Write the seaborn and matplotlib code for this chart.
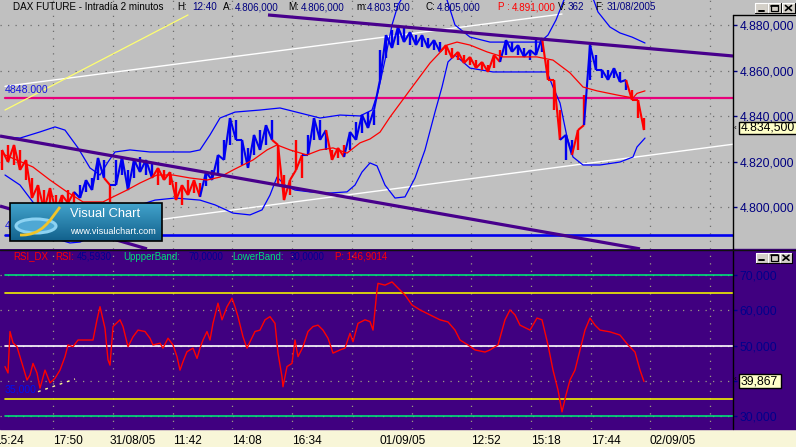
import matplotlib
matplotlib.use("Agg")
import matplotlib.pyplot as plt
import matplotlib.transforms as mtransforms
from matplotlib.patches import Rectangle, Ellipse, PathPatch
from matplotlib.path import Path
from matplotlib.collections import LineCollection
import numpy as np
import pandas as pd
import seaborn as sns

# ------------------------------------------------------------------ data
# price bars (2-minute DAX future), sampled along the time axis
price_x = list(range(2, 645, 6))
price_hi = [4825.2, 4827.4, 4827.4, 4825.2, 4820.8, 4812.9, 4809.8, 4807.6, 4808.5, 4805.4,
            4805.4, 4807.6, 4806.8, 4809.8, 4812.0, 4812.9, 4821.7, 4820.8, 4809.8, 4820.8,
            4822.1, 4816.4, 4820.8, 4822.1, 4820.8, 4819.5, 4817.3, 4816.4, 4815.5, 4811.1,
            4809.8, 4812.0, 4812.0, 4810.7, 4815.5, 4816.4, 4823.0, 4829.6, 4839.2, 4838.3,
            4829.6, 4826.1, 4831.8, 4833.9, 4836.1, 4838.3, 4827.4, 4814.2, 4812.0, 4829.6,
            4823.0, 4831.8, 4839.2, 4838.3, 4833.9, 4825.2, 4826.1, 4827.4, 4833.1, 4837.5,
            4840.6, 4841.9, 4842.8, 4869.0, 4875.6, 4877.8, 4879.1, 4878.7, 4876.9, 4875.6,
            4875.6, 4874.3, 4873.4, 4872.5, 4871.2, 4869.9, 4868.2, 4866.8, 4866.0, 4864.6,
            4863.8, 4862.5, 4866.8, 4869.0, 4873.4, 4872.5, 4871.2, 4869.9, 4869.0, 4873.4,
            4874.3, 4864.6, 4855.9, 4842.7, 4831.8, 4829.6, 4833.9, 4849.3, 4871.2, 4866.8,
            4860.3, 4860.3, 4861.1, 4859.4, 4855.9, 4851.5, 4847.1, 4839.2]
price_lo = [4816.4, 4819.9, 4818.6, 4816.4, 4812.0, 4804.1, 4801.1, 4798.9, 4800.6, 4798.0,
            4798.9, 4801.9, 4801.5, 4804.1, 4806.8, 4807.6, 4812.0, 4812.9, 4802.4, 4809.8,
            4814.2, 4807.6, 4812.9, 4815.5, 4814.2, 4812.9, 4809.8, 4812.0, 4809.8, 4803.2,
            4801.1, 4805.4, 4806.3, 4804.6, 4809.4, 4812.0, 4814.2, 4820.8, 4827.4, 4829.6,
            4818.6, 4817.3, 4823.0, 4825.2, 4827.4, 4829.6, 4809.8, 4803.2, 4805.4, 4816.4,
            4812.9, 4823.0, 4829.6, 4829.6, 4825.2, 4820.8, 4821.7, 4822.1, 4825.2, 4829.6,
            4832.6, 4834.8, 4836.1, 4855.9, 4865.5, 4869.9, 4871.2, 4872.5, 4871.2, 4871.2,
            4870.4, 4869.9, 4869.0, 4868.2, 4866.8, 4865.5, 4864.6, 4863.3, 4862.5, 4861.1,
            4860.3, 4859.4, 4861.1, 4863.8, 4866.8, 4868.2, 4866.8, 4866.0, 4864.6, 4866.8,
            4868.2, 4855.9, 4842.7, 4829.6, 4820.8, 4823.0, 4825.2, 4836.1, 4855.9, 4860.3,
            4856.8, 4855.9, 4856.8, 4855.0, 4851.5, 4847.1, 4839.2, 4833.9]
price_trend = ("RRRRRRRRRRRRR" "BBBBB" "R" "BBBBBBB" "RRRRRRRR" "BBBBBBBBBBBB" "RRRRR" "BBBB"
               "RRR" "BBBBBBBBBBBBBBBB" "RRRRRRRRRR" "BBBBBBB" "RRR" "BB" "RR" "BBBBBBB" "RRR")
price_last = 4834.5

# moving average
ma_x = [5, 33, 50, 67, 83, 103, 113, 127, 140, 157, 173, 190, 207, 220, 233, 253, 267, 277, 290,
        307, 320, 333, 347, 360, 370, 380, 390, 410, 430, 447, 457, 470, 487, 503, 537, 553, 570,
        583, 597, 617, 633, 637, 645]
ma_v = [4823.0, 4817.7, 4812.0, 4806.8, 4802.4, 4802.4, 4804.6, 4807.6, 4810.7, 4814.2, 4814.2,
        4812.9, 4812.0, 4813.3, 4816.4, 4820.8, 4825.2, 4827.4, 4825.2, 4823.0, 4825.2, 4826.1,
        4823.8, 4828.3, 4830.0, 4833.0, 4839.6, 4851.5, 4863.3, 4871.2, 4872.5, 4871.2, 4868.2,
        4866.0, 4866.0, 4864.6, 4859.0, 4852.8, 4851.1, 4849.3, 4848.0, 4850.0, 4851.1]

# Bollinger bands
ub_x = [5, 20, 40, 55, 65, 78, 90, 100, 108, 115, 130, 150, 170, 190, 200, 210, 220, 235, 260,
        280, 300, 320, 340, 360, 372, 378, 385, 392, 398, 410, 430, 447, 455, 470, 490, 510, 540,
        548, 556, 564, 575, 590, 598, 610, 620, 632, 645]
ub_v = [4830.9, 4830.4, 4833.1, 4835.3, 4833.9, 4826.1, 4817.3, 4814.2, 4819.9, 4824.3, 4825.2,
        4824.3, 4824.3, 4824.3, 4825.2, 4831.8, 4839.2, 4841.8, 4842.7, 4843.6, 4841.4, 4839.2,
        4840.5, 4840.1, 4842.7, 4850.6, 4864.6, 4880.0, 4888.8, 4897.5, 4899.7, 4891.0, 4880.0,
        4874.7, 4872.5, 4872.5, 4872.5, 4875.6, 4882.2, 4891.0, 4897.5, 4895.4, 4885.7, 4879.1,
        4876.5, 4874.7, 4872.1]
lb_x = [5, 20, 35, 50, 60, 70, 80, 95, 110, 125, 140, 155, 175, 200, 215, 233, 250, 262, 270,
        277, 285, 295, 310, 330, 347, 355, 362, 370, 377, 385, 395, 405, 415, 425, 435, 442, 448,
        455, 470, 493, 520, 547, 553, 560, 567, 573, 583, 600, 620, 633, 637, 645]
lb_v = [4814.2, 4809.8, 4801.1, 4791.0, 4785.7, 4784.4, 4784.8, 4787.9, 4792.3, 4797.5, 4801.1,
        4803.2, 4804.1, 4803.2, 4801.1, 4797.5, 4796.7, 4798.9, 4805.4, 4813.3, 4809.8, 4807.6,
        4806.8, 4806.3, 4806.8, 4809.8, 4815.5, 4819.5, 4818.2, 4809.8, 4804.1, 4804.6, 4812.9,
        4825.2, 4841.8, 4852.8, 4863.8, 4866.8, 4861.1, 4859.4, 4859.4, 4859.4, 4852.8, 4845.8,
        4830.9, 4822.1, 4818.6, 4818.6, 4819.9, 4822.1, 4826.5, 4830.4]

# drawn trendlines: (x0, price0, x1, price1)
purple_lines = [(268, 4884.4, 733, 4866.4), (0, 4831.3, 640, 4781.8), (0, 4800.6, 147, 4781.8)]
white_lines = [(5, 4853.1, 562, 4884.8), (100, 4791.2, 733, 4827.7)]
yellow_lines = [(5, 4842.7, 188, 4884.4)]
level_pink = 4848.0
level_blue = 4788.0
price_ticks = [4800, 4820, 4840, 4860, 4880]

# RSI
rsi_x = [5, 8, 10, 13, 17, 20, 23, 27, 30, 33, 37, 40, 45, 50, 55, 60, 65, 68, 73, 78,
         87, 93, 97, 100, 105, 108, 110, 113, 120, 123, 128, 133, 138, 145, 150, 153, 160, 163, 168, 173,
         177, 180, 183, 187, 193, 197, 200, 203, 207, 210, 213, 218, 222, 227, 232, 235, 238, 243, 247, 250,
         255, 260, 265, 270, 275, 278, 282, 283, 287, 292, 295, 298, 303, 308, 313, 318, 323, 328, 333, 340,
         345, 350, 353, 358, 365, 370, 373, 377, 378, 385, 392, 400, 405, 412, 420, 430, 440, 448, 455, 460,
         468, 475, 485, 490, 498, 505, 510, 515, 520, 530, 537, 542, 548, 553, 558, 562, 566, 570, 575, 580,
         585, 590, 595, 600, 610, 620, 628, 635, 640, 644]
rsi_v = [44.1, 42.3, 54.0, 50.8, 49.7, 46.9, 44.1, 40.3, 41.7, 45.0, 42.3, 38.0, 43.1, 39.5, 40.8, 43.1, 46.9, 50.2, 49.7, 51.6,
         51.6, 51.6, 57.3, 61.0, 54.9, 46.0, 44.5, 55.4, 57.3, 55.4, 49.7, 52.5, 54.4, 54.0, 52.1, 50.2, 50.7, 49.3, 52.1, 50.2,
         46.9, 43.1, 45.5, 48.3, 49.3, 46.4, 49.3, 51.6, 54.0, 51.6, 56.3, 62.0, 57.3, 61.0, 63.4, 61.0, 58.2, 52.5, 49.3, 51.1,
         54.0, 54.4, 57.3, 58.2, 56.3, 47.9, 41.2, 38.4, 44.1, 45.0, 51.6, 46.9, 49.7, 54.0, 55.4, 55.8, 54.4, 52.1, 47.9, 48.8,
         49.3, 53.5, 51.1, 56.3, 57.3, 56.8, 54.4, 65.7, 67.6, 67.1, 68.0, 65.7, 64.3, 61.5, 60.1, 58.7, 57.3, 56.7, 54.4, 51.6,
         50.2, 48.8, 48.2, 48.8, 50.2, 57.3, 60.1, 58.7, 55.8, 54.4, 57.8, 57.3, 50.2, 43.1, 37.5, 31.3, 36.1, 40.3, 43.1, 48.8,
         54.4, 57.8, 55.8, 54.4, 53.9, 53.0, 50.2, 48.2, 43.1, 39.867]
rsi_upper, rsi_lower = 70, 30
rsi_yellow = [65, 35]
rsi_mid = 50
rsi_trend = (38, 37.0, 75, 40.6)
rsi_ticks = [30, 40, 50, 60, 70]
rsi_ticks_labelled = [30, 50, 60, 70]   # 40 sits behind the value tag

# time axis
grid_x = [53.3, 113.0, 172.7, 232.4, 292.1, 351.8, 411.5, 471.2, 530.9, 590.6, 650.3, 710.0]
day_x = [107, 377, 647]
time_labels = ["15:24", "17:50", "31/08/05", "11:42", "14:08", "16:34", "01/09/05",
               "12:52", "15:18", "17:44", "02/09/05"]
time_label_x = [-6.4, 53.3, 109.5, 172.7, 232.4, 292.1, 379.0, 471.2, 530.9, 590.6, 650.0]

# header texts
NAVY, BLACK, RED = "#000080", "#000000", "#FF0000"
GREEN = "#00E078"
header_x = [13, 177, 192, 223, 235, 288, 301, 356, 367, 425, 437, 498, 511.5, 557.5, 568, 595, 607]
header_txt = ["DAX FUTURE - Intradía 2 minutos", "H:", "12:40", "A:", "4.806,000", "M:",
              "4.806,000", "m:", "4.803,500", "C:", "4.805,000", "P :", "4.891,000", "V:", "362",
              "F:", "31/08/2005"]
header_col = [BLACK, BLACK, NAVY, BLACK, NAVY, BLACK, NAVY, BLACK, NAVY, BLACK, NAVY, RED, RED,
              BLACK, NAVY, BLACK, NAVY]
rsi_leg_x = [13, 55, 77, 123, 188, 232, 290, 335]
rsi_leg_txt = ["RSI_DX", "RSI:", "45,5930", "UppperBand:", "70,0000", "LowerBand:", "30,0000",
               "P: 146,9014"]
rsi_leg_col = [RED, RED, "#000090", GREEN, "#000090", GREEN, "#000090", RED]


def euro(v, d=3):
    s = f"{v:,.{d}f}"
    return s.replace(",", "#").replace(".", ",").replace("#", ".")


# ------------------------------------------------------------------ figure
sns.set_style("white")
plt.rcParams["font.family"] = ["Liberation Sans", "DejaVu Sans"]

W, H = 796, 447
GRAY = "#C0C0C0"
PURPLE = "#400080"
CREAM = "#F8F6D8"
fig = plt.figure(figsize=(W / 100, H / 100), dpi=100, facecolor=CREAM)


def fbox(x0, y0, x1, y1):
    return [x0 / W, 1 - y1 / H, (x1 - x0) / W, (y1 - y0) / H]


fig.add_artist(Rectangle((0, 1 - 249 / H), 1, 249 / H, transform=fig.transFigure,
                         color=GRAY, zorder=-5))
fig.add_artist(Rectangle((0, 1 - 429 / H), 1, 180 / H, transform=fig.transFigure,
                         color=PURPLE, zorder=-5))

# ---------------- price panel
ax = fig.add_axes(fbox(0, 0, 733, 249))
ax.set_facecolor(GRAY)
ax.set_xlim(0, 733)
ax.set_ylim(4781.75, 4890.96)
for s in ax.spines.values():
    s.set_visible(False)
ax.set_axisbelow(True)
ax.set_xticks(grid_x)
ax.tick_params(axis="x", length=0, labelbottom=False)
ax.yaxis.tick_right()
ax.set_yticks(price_ticks)
ax.set_yticklabels([euro(v) for v in price_ticks])
ax.tick_params(axis="y", colors=NAVY, length=3, width=1, pad=1.5, labelsize=8.7)
ax.grid(True, color="#6E6E6E", lw=0.9, ls=(0, (1, 5)))

ax.axhline(level_pink, xmin=5 / 733, color="#E8007A", lw=1.6, zorder=2)
ax.axhline(level_blue, xmin=5 / 733, color="#0000F0", lw=1.9, zorder=2)
ax.annotate("4848.000", (5, level_pink), xytext=(0, 6), textcoords="offset points",
            color="#1414E0", fontsize=7.6, va="center", ha="left")
ax.annotate("4788.000", (5, level_blue), xytext=(0, 6.2), textcoords="offset points",
            color="#1414E0", fontsize=7.6, va="center", ha="left")

for x0, y0, x1, y1 in white_lines:
    ax.plot([x0, x1], [y0, y1], color="white", lw=1.0, zorder=2)
for x0, y0, x1, y1 in yellow_lines:
    ax.plot([x0, x1], [y0, y1], color="#FFFF70", lw=0.9, zorder=2)

sns.lineplot(x=ub_x, y=ub_v, ax=ax, color="#0000FF", lw=0.9, estimator=None, sort=False, zorder=3)
sns.lineplot(x=lb_x, y=lb_v, ax=ax, color="#0000FF", lw=0.9, estimator=None, sort=False, zorder=3)

cmap = {"R": "#FF0000", "B": "#0000F0"}
bar_cols = [cmap[c] for c in price_trend]
ax.vlines(price_x, price_lo, price_hi, colors=bar_cols, lw=1.7, zorder=4)
zig = [(x, hi if i % 2 == 0 else lo) for i, (x, hi, lo) in enumerate(zip(price_x, price_hi, price_lo))]
segs = [[zig[i], zig[i + 1]] for i in range(len(zig) - 1)]
ax.add_collection(LineCollection(segs, colors=bar_cols[1:], lw=1.5, zorder=4))

sns.lineplot(x=ma_x, y=ma_v, ax=ax, color="#FF0000", lw=0.9, estimator=None, sort=False, zorder=5)

for x0, y0, x1, y1 in purple_lines:
    ax.plot([x0, x1], [y0, y1], color="#48008C", lw=2.3, zorder=6, solid_capstyle="butt")

# ---------------- RSI panel
ar = fig.add_axes(fbox(0, 249, 733, 429))
ar.set_facecolor(PURPLE)
ar.set_xlim(0, 733)
ar.set_ylim(26.47, 77.3)
for s in ar.spines.values():
    s.set_visible(False)
ar.set_axisbelow(True)
ar.set_xticks(grid_x)
ar.set_xticks(day_x, minor=True)
ar.tick_params(axis="x", which="major", length=2.4, width=1, color="black", labelbottom=False)
ar.tick_params(axis="x", which="minor", length=4.6, width=1, color="black", labelbottom=False)
ar.yaxis.tick_right()
ar.set_yticks(rsi_ticks)
ar.set_yticklabels([euro(v) if v in rsi_ticks_labelled else "" for v in rsi_ticks])
ar.tick_params(axis="y", colors="#00008C", length=3, width=1, pad=1.5, labelsize=8.7)
ar.grid(True, which="major", color="#9A9A86", lw=0.9, ls=(0, (1, 5)))

for lvl, col in [(rsi_upper, GREEN), (rsi_lower, GREEN), (rsi_yellow[0], "#F0F000"),
                 (rsi_yellow[1], "#F0F000"), (rsi_mid, "white")]:
    ar.axhline(lvl, xmin=5 / 733, color=col, lw=1.2, zorder=2)
ar.plot([rsi_trend[0], rsi_trend[2]], [rsi_trend[1], rsi_trend[3]], color="#FFFF90", lw=1.0,
        ls=(0, (2, 3.5)), zorder=3)
ar.annotate(euro(35), (5, rsi_yellow[1]), xytext=(0, 6.6), textcoords="offset points",
            color="#0010F0", fontsize=7.6, va="center", ha="left")
rsi_df = pd.DataFrame({"t": rsi_x, "rsi": rsi_v})
sns.lineplot(data=rsi_df, x="t", y="rsi", ax=ar, color="#FF0000", lw=1.0, estimator=None,
             sort=False, zorder=4)
ar.set_xlabel("")
ar.set_ylabel("")
ax.set_xlabel("")
ax.set_ylabel("")

tl = mtransforms.blended_transform_factory(ar.transData, fig.transFigure)
for xp, txt in zip(time_label_x, time_labels):
    ar.text(xp, 1 - 441.5 / H, txt, transform=tl, ha="left", va="center", fontsize=8.6,
            color="black", clip_on=False)

# ---------------- overlay (window chrome, texts, tags, logo)
ov = fig.add_axes([0, 0, 1, 1], zorder=10)
ov.set_xlim(0, W)
ov.set_ylim(H, 0)
ov.axis("off")
ov.patch.set_alpha(0)

ov.plot([733, 733], [15, 429], color="black", lw=1.0)
ov.plot([733, 796], [15, 15], color="black", lw=1.0)
ov.plot([0, 796], [249.5, 249.5], color="#101010", lw=1.0)

for xp, txt, col in zip(header_x, header_txt, header_col):
    ov.text(xp, 7.5, txt, color=col, fontsize=7.1, ha="left", va="center")
for xp, txt, col in zip(rsi_leg_x, rsi_leg_txt, rsi_leg_col):
    ov.text(xp, 256.5, txt, color=col, fontsize=7.0, ha="left", va="center")

# value tags
ov.add_patch(Rectangle((739, 122), 60, 11.5, fc="#FFFFC8", ec="black", lw=1))
ov.text(740.5, 128, euro(price_last), fontsize=8.7, color="black", ha="left", va="center")
ov.text(734, 128.5, "‹", fontsize=6, color="black", ha="left", va="center")
ov.add_patch(Rectangle((739, 374), 42, 14, fc="#FFFFC8", ec="black", lw=1))
ov.text(741, 381.3, euro(rsi_v[-1]), fontsize=8.8, color="black", ha="left", va="center")
ov.text(734, 380, "‹", fontsize=6, color="black", ha="left", va="center")


def button(x, y, w, h, kind):
    ov.add_patch(Rectangle((x, y), w, h, fc="#D4D0C8", ec="none"))
    ov.plot([x, x + w], [y, y], color="white", lw=0.8)
    ov.plot([x, x], [y, y + h], color="white", lw=0.8)
    ov.plot([x, x + w], [y + h, y + h], color="black", lw=0.8)
    ov.plot([x + w, x + w], [y, y + h], color="black", lw=0.8)
    cx, cy = x + w / 2, y + h / 2
    if kind == "min":
        ov.plot([cx - 3, cx + 2], [cy + 2.5, cy + 2.5], color="black", lw=1.4)
    elif kind == "max":
        ov.add_patch(Rectangle((cx - 3.5, cy - 3), 7, 6, fc="none", ec="black", lw=0.9))
        ov.plot([cx - 3.5, cx + 3.5], [cy - 2.5, cy - 2.5], color="black", lw=1.2)
    else:
        ov.plot([cx - 3, cx + 3], [cy - 2.5, cy + 2.5], color="black", lw=1.2)
        ov.plot([cx - 3, cx + 3], [cy + 2.5, cy - 2.5], color="black", lw=1.2)


for bx, kind in [(755, "min"), (768, "max"), (782, "close")]:
    button(bx, 3, 13, 10, kind)
for bx, kind in [(756, "min"), (768, "max"), (780, "close")]:
    button(bx, 253, 12, 9.5, kind)

# Visual Chart logo
grad = np.linspace(0, 1, 60)[:, None]
c_top = np.array([0.26, 0.64, 0.80])
c_bot = np.array([0.07, 0.38, 0.55])
img = (c_top[None, None, :] * (1 - grad[..., None]) + c_bot[None, None, :] * grad[..., None])
img = np.repeat(img, 2, axis=1)
ov.imshow(img, extent=(10, 162, 241, 203), aspect="auto", zorder=20)
ov.add_patch(Rectangle((10, 203), 152, 38, fc="none", ec="black", lw=1.2, zorder=21))
ov.add_patch(Ellipse((36, 226), 40, 14, fc="#4FA8D4", ec="#8CD2F2", lw=2.2, zorder=21))
sw = Path([(20, 235), (42, 236), (50, 220), (60, 207)],
          [Path.MOVETO, Path.CURVE4, Path.CURVE4, Path.CURVE4])
ov.add_patch(PathPatch(sw, fc="none", ec="#F2C428", lw=2.0, zorder=22))
ov.text(70, 214, "Visual Chart", color="white", fontsize=9.3, ha="left", va="center", zorder=22)
ov.text(70, 231, "www.visualchart.com", color="white", fontsize=6.6, ha="left", va="center",
        zorder=22)
ov.set_xlim(0, W)
ov.set_ylim(H, 0)

fig.savefig("out.png", dpi=100, facecolor=fig.get_facecolor())
